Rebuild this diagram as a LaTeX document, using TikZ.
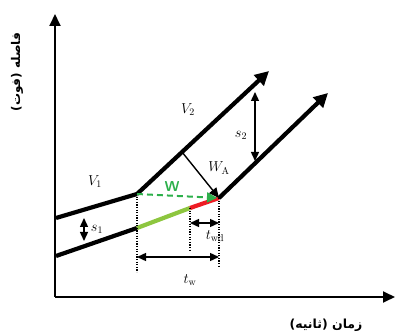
\documentclass[tikz,border=0pt]{standalone}
\usepackage{fontspec}
\newfontfamily\arabicfont[Script=Arabic]{DejaVu Sans}
\TeXXeTstate=1
\usetikzlibrary{arrows.meta}
\definecolor{wgreen}{HTML}{2DB04B}
\definecolor{lgreen}{HTML}{8DC63F}
\definecolor{sred}{HTML}{EE1C24}
\begin{document}
\begin{tikzpicture}[x=1pt,y=-1pt,
  axis/.style={line width=1.8pt,-{Triangle[length=12pt,width=11pt]}},
  veh/.style={line width=4.2pt},
  vehend/.style={line width=4.2pt,-{Triangle[length=14pt,width=14pt]}},
  dots/.style={line width=1.5pt,dash pattern=on 1.3pt off 1.3pt},
  dim/.style={line width=1.4pt,{Triangle[length=9pt,width=8pt]}-{Triangle[length=9pt,width=8pt]}},
  lbl/.style={inner sep=0pt,font=\Large}]
\useasboundingbox (0,0) rectangle (396,336);
% axes
\coordinate (O) at (55,297);
\coordinate (Y) at (55,14);
\coordinate (X) at (395,297);
\draw[axis] (O) -- (Y);
\draw[axis] (O) -- (X);
% points
\coordinate (A1) at (56,218);
\coordinate (K1) at (137,194);
\coordinate (T1) at (269,71);
\coordinate (A2) at (56,256);
\coordinate (K2) at (137,228);
\coordinate (M) at (190,208);
\coordinate (K3) at (219,198);
\coordinate (T2) at (328,93);
\coordinate (P) at (182,152);
% vehicle lines
\draw[veh] (A1) -- (K1);
\draw[vehend] (K1) -- (T1);
\draw[veh] (A2) -- (K2);
\draw[line width=4.2pt,lgreen] (K2) -- (M);
\draw[line width=4.2pt,sred] (M) -- (K3);
\draw[vehend] (K3) -- (T2);
% dotted verticals
\coordinate (D1) at (137,272);
\coordinate (D2) at (190,250);
\coordinate (D3) at (219,268);
\draw[dots] (K1) -- (D1);
\draw[dots] (M) -- (D2);
\draw[dots] (K3) -- (D3);
% W dashed
\draw[wgreen,line width=2pt,dash pattern=on 6pt off 4pt,shorten >=2pt,-{Triangle[length=10pt,width=10pt]}] (K1) -- (K3);
% WA arrow
\draw[line width=1.4pt,-{Triangle[length=10pt,width=9pt]}] (P) -- (K3);
% dimension arrows
\coordinate (tw1) at (137,257);
\coordinate (tw2) at (219,257);
\draw[dim] (tw1) -- (tw2);
\coordinate (td1) at (190,223);
\coordinate (td2) at (219,223);
\draw[dim] (td1) -- (td2);
\coordinate (s1a) at (84,218);
\coordinate (s1b) at (84,241);
\draw[dim] (s1a) -- (s1b);
\coordinate (s2a) at (255,92);
\coordinate (s2b) at (255,161);
\draw[dim] (s2a) -- (s2b);
% labels
\node[lbl] (v1) at (95,182) {$V_1$};
\node[lbl] (v2) at (188,110) {$V_2$};
\node[lbl] (wa) at (219,168) {$W_{\mathrm{A}}$};
\node[lbl] (s1) at (97,229) {$s_1$};
\node[lbl] (s2) at (241,135) {$s_2$};
\node[lbl,text=wgreen,font=\sffamily\bfseries\Large] (w) at (172,187) {W};
\node[lbl] (tw) at (190,280) {$t_{\mathrm{w}}$};
\node[lbl] (twd) at (215,236) {$t_{\mathrm{wd}}$};
\node[inner sep=0pt,rotate=90,font=\arabicfont\bfseries\fontsize{12}{14}\selectfont] (ylab) at (17,72) {\beginR فاصله (فوت)\endR};
\node[inner sep=0pt,font=\arabicfont\bfseries\fontsize{12.5}{14}\selectfont] (xlab) at (326,325) {\beginR زمان (ثانیه)\endR};
\end{tikzpicture}
\end{document}
